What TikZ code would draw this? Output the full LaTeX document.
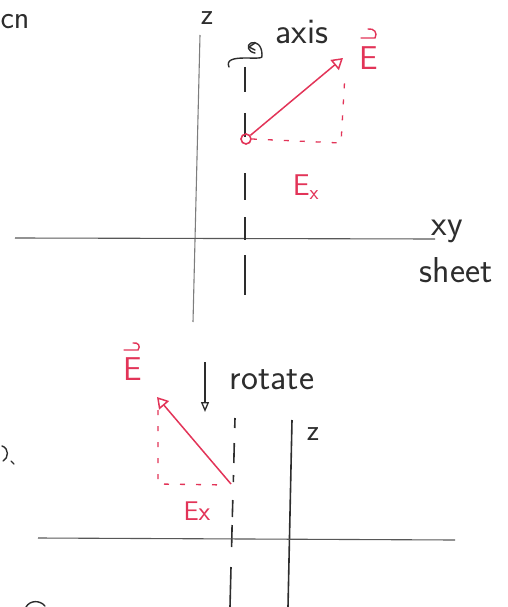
\documentclass[tikz,border=0pt]{standalone}
\usetikzlibrary{arrows.meta}
\definecolor{pen}{RGB}{226,52,88}
\definecolor{ink}{RGB}{45,45,45}
\definecolor{pencil}{RGB}{125,125,125}
\begin{document}
\begin{tikzpicture}[x=1pt,y=-1pt,
  lbl/.style={font=\sffamily\fontsize{36}{40}\selectfont, text=ink, inner sep=0pt},
  redlbl/.style={font=\sffamily\fontsize{33}{38}\selectfont, text=pen, inner sep=0pt},
  axisline/.style={draw=ink, line width=1.6pt},
  gaxis/.style={draw=pencil, line width=1.1pt},
  vecline/.style={draw=pen, line width=1.5pt, -{Triangle[open,length=11pt,width=13pt,line width=1.5pt]}},
  comp/.style={draw=pen, line width=1.3pt, dash pattern=on 5pt off 11pt},
  accent/.style={draw=pen, line width=1.4pt, line cap=round},
  downarrow/.style={draw=ink, line width=1.3pt, -{Triangle[open,length=10pt,width=8pt,line width=1.3pt]}},
  curl/.style={draw=ink, line width=1.4pt, line cap=round}]
\useasboundingbox (0,0) rectangle (508,607);

% ---------- top sketch ----------
\node[lbl, font=\sffamily\fontsize{32}{36}\selectfont] (cn) at (15,22) {cn};

\coordinate (z1top) at (200,35);
\coordinate (z1bot) at (193,322);
\draw[gaxis] (z1top) -- (z1bot);
\node[lbl, font=\sffamily\fontsize{30}{36}\selectfont] (z1) at (207,18) {z};

\coordinate (h1l) at (15,238);
\coordinate (h1r) at (435,239);
\draw[gaxis, draw=ink!80] (h1l) -- (h1r);
\node[lbl] (xy) at (447,231) {xy};
\node[lbl] (sheet) at (456,270) {sheet};

% dashed rotation axis (hand-drawn dashes)
\draw[axisline] (245,67) -- (245,92);
\draw[axisline] (245,113) -- (245,137);
\draw[axisline] (245,173) -- (245,200);
\draw[axisline] (245,217) -- (245,240);
\draw[axisline] (245,255) -- (245,295);

% rotation curl
\coordinate (cl1) at (229,67);
\coordinate (cl2) at (262,55);
\coordinate (cl3) at (249,47);
\draw[curl] (cl1) .. controls (226,60) and (233,58) .. (245,58)
  .. controls (256,58) and (264,59) .. (cl2)
  .. controls (262,45) and (256,41) .. (251,43)
  .. controls (246,45) and (248,52) .. (255,53);
\draw[curl] (cl3) -- ++(6,-4);
\draw[curl] (cl3) -- ++(6,3);
\node[lbl] (axis) at (302,32) {axis};

% E vector
\node[circle, draw=pen, line width=1.6pt, minimum size=10pt, inner sep=0pt] (o1) at (246,139) {};
\coordinate (t1) at (343,58);
\draw[vecline] (o1) -- (t1);
\coordinate (c1) at (341,143);
\coordinate (c1top) at (345,74);
\draw[comp] (o1.east) -- (c1) -- (c1top);
\node[redlbl] (E1) at (369,58) {E};
\coordinate (ac1a) at (361,38);
\coordinate (ac1b) at (375,38);
\draw[accent] (ac1a) -- (ac1b) .. controls (378,33) and (374,28) .. (368,29);
\node[redlbl, font=\sffamily\fontsize{30}{36}\selectfont] (Ex1) at (306,187) {E$_{\mathsf{x}}$};

% ---------- bottom sketch ----------
\node[lbl] (rotate) at (272,380) {rotate};
\coordinate (r1) at (205,362);
\coordinate (r2) at (205,412);
\draw[downarrow] (r1) -- (r2);

\draw[axisline] (235,418) -- (234.7,428);
\draw[axisline] (234.3,443) -- (233.8,463);
\draw[axisline] (233.5,475) -- (233.3,482);
\draw[axisline] (232.8,500) -- (232.3,517);
\draw[axisline] (232.1,525) -- (231.6,547);
\draw[axisline] (231.0,567) -- (230,607);

\coordinate (z2top) at (292,420);
\coordinate (z2bot) at (288,607);
\draw[axisline] (z2top) -- (z2bot);
\node[lbl, font=\sffamily\fontsize{30}{36}\selectfont] (z2) at (313,434) {z};

\coordinate (h2l) at (38,538);
\coordinate (h2r) at (455,540);
\draw[gaxis, draw=ink!80] (h2l) -- (h2r);

\coordinate (o2) at (231,484);
\coordinate (t2) at (157,397);
\draw[vecline] (o2) -- (t2);
\coordinate (c2top) at (158,410);
\coordinate (c2) at (158,484);
\coordinate (c2end) at (226,485);
\draw[comp] (c2top) -- (c2) -- (c2end);
\node[redlbl] (E2) at (133,369) {E};
\coordinate (ac2a) at (124,350);
\coordinate (ac2b) at (138,350);
\draw[accent] (ac2a) -- (ac2b) .. controls (141,346) and (138,342) .. (133,343);
\node[redlbl, font=\sffamily\fontsize{27}{32}\selectfont] (Ex2) at (197,511) {Ex};

% cropped fragments at the left edge
\coordinate (f1a) at (2,446);
\coordinate (f1b) at (3,461);
\draw[curl] (f1a) .. controls (9,448) and (9,458) .. (f1b);
\coordinate (f2a) at (11,461);
\coordinate (f2b) at (14,464);
\draw[curl] (f2a) -- (f2b);
\coordinate (f3a) at (26,607);
\coordinate (f3b) at (45,606);
\draw[curl] (f3a) .. controls (30,600) and (40,600) .. (f3b);
\end{tikzpicture}
\end{document}
